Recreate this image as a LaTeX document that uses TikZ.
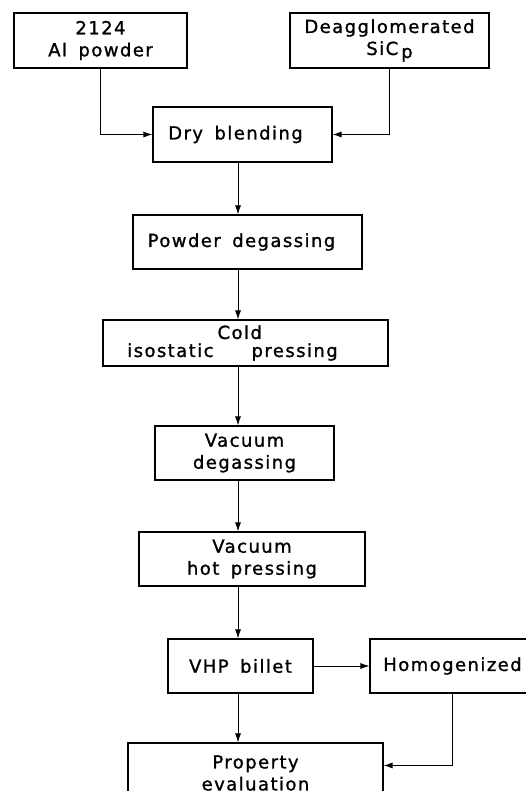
\documentclass[tikz,border=0pt]{standalone}
\usepackage{fontspec}
\setmainfont{DejaVu Sans}[LetterSpace=8, WordSpace=1.6, FakeBold=1.2]
\usetikzlibrary{arrows.meta}

\begin{document}
\begin{tikzpicture}[x=1pt,y=-1pt,
		box/.style={draw, line width=1.1pt, align=center, inner sep=2pt, font=\fontsize{18}{22}\selectfont},
		arr/.style={line width=0.9pt, -{Latex[length=9pt,width=6pt]}}]
				\clip (0,0) rectangle (526,791);
				\fill[white] (0,0) rectangle (526,791);
				
				% starting powders
				\node[box, minimum width=173pt, minimum height=55pt] (al) at (100.5,40.5) {2124\\Al powder};
				\node[box, minimum width=199pt, minimum height=55pt] (sic) at (389.5,40.5) {Deagglomerated\\SiC\,\raisebox{-3pt}{p}};
				
				% processing steps
				\node[box, minimum width=179pt, minimum height=55pt] (dry) at (242.5,134.5) {Dry blending\hspace{14pt}};
				\node[box, minimum width=229pt, minimum height=54pt] (pdeg) at (247.5,242) {Powder degassing\hspace{12pt}};
				\node[box, minimum width=285pt, minimum height=46pt] (cip) at (245.5,343) {isostatic\hspace{4pt}\rlap{\raisebox{18pt}{Cold}}\hspace{34pt}pressing\hspace{26pt}};
				\node[box, minimum width=179pt, minimum height=54pt] (vdeg) at (244.5,453) {Vacuum\\degassing};
				\node[box, minimum width=226pt, minimum height=54pt] (vhp) at (252,559) {Vacuum\\hot pressing};
				\node[box, minimum width=145pt, minimum height=54pt] (billet) at (240.5,666) {VHP billet};
				\node[box, minimum width=165pt, minimum height=54pt] (homog) at (452.5,666) {Homogenized};
				\node[box, minimum width=255pt, minimum height=60pt] (prop) at (255.5,773) {Property\\evaluation};
				
				% main line
				\coordinate (spine) at (238,0);
				\draw[arr] (al.south) |- (dry.west);
				\draw[arr] (sic.south) |- (dry.east);
				\draw[arr] (spine |- dry.south) -- (spine |- pdeg.north);
				\draw[arr] (spine |- pdeg.south) -- (spine |- cip.north);
				\draw[arr] (spine |- cip.south) -- (spine |- vdeg.north);
				\draw[arr] (spine |- vdeg.south) -- (spine |- vhp.north);
				\draw[arr] (spine |- vhp.south) -- (spine |- billet.north);
				\draw[arr] (spine |- billet.south) -- (spine |- prop.north);
				\draw[arr] (billet.east) -- (homog.west);
				\draw[arr] (homog.south) |- ([yshift=-23pt]prop.north east);
			\end{tikzpicture}
\end{document}
